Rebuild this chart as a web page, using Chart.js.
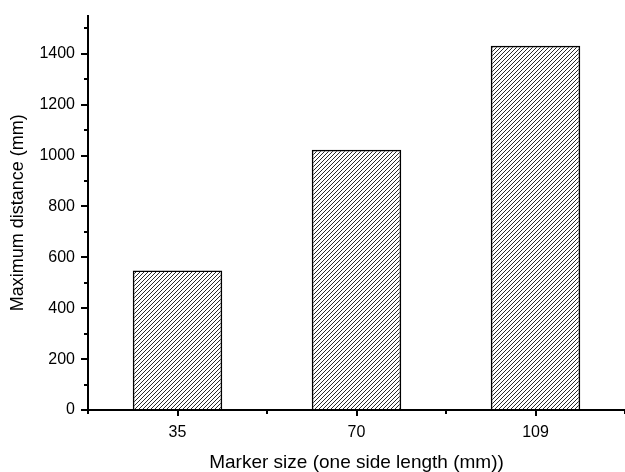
<!DOCTYPE html>
<html>
  <head>
    <meta charset="utf-8">
    <title>Maximum distance by marker size</title>
    <style>
      html, body { margin: 0; padding: 0; background: #fff; }
      .chart-container { width: 625px; height: 472px; }
    </style>
  </head>
  <body>
    <div class="chart-container">
      <canvas id="myChart" width="625" height="472"></canvas>
    </div>
    <script src="https://cdn.jsdelivr.net/npm/chart.js"></script>
    <script>
      // Data
      const markerSizes = ['35', '70', '109'];
      const maxDistances = [548, 1023, 1432];
      const yMin = 0;
      const yMax = 1550;
      const yMajorStep = 200;
      const yMinorStep = 100;

      const FONT = 'Arial, "Liberation Sans", sans-serif';

      // Diagonal hatch fill for the bars
      function makeHatch() {
        const tile = document.createElement('canvas');
        tile.width = 4;
        tile.height = 4;
        const c = tile.getContext('2d');
        c.strokeStyle = '#2a2a2a';
        c.lineWidth = 1;
        c.beginPath();
        c.moveTo(-1, 5); c.lineTo(5, -1);
        c.moveTo(-3, 3); c.lineTo(3, -3);
        c.moveTo(1, 7); c.lineTo(7, 1);
        c.stroke();
        return document.getElementById('myChart').getContext('2d').createPattern(tile, 'repeat');
      }

      // Minor ticks on y, boundary ticks on x
      const extraTicks = {
        id: 'extraTicks',
        afterDraw(chart) {
          const ctx = chart.ctx;
          const y = chart.scales.y;
          const x = chart.scales.x;
          ctx.save();
          ctx.strokeStyle = '#000';
          ctx.lineWidth = 2;
          ctx.beginPath();
          for (let v = yMin + yMinorStep; v <= yMax; v += yMajorStep) {
            const py = Math.round(y.getPixelForValue(v));
            ctx.moveTo(x.left - 4, py);
            ctx.lineTo(x.left, py);
          }
          for (let i = 0; i <= markerSizes.length; i++) {
            const px = Math.round(x.getPixelForValue(i - 0.5));
            ctx.moveTo(px, y.bottom);
            ctx.lineTo(px, y.bottom + 4);
          }
          ctx.stroke();
          ctx.restore();
        }
      };

      const chart = new Chart(document.getElementById('myChart'), {
        type: 'bar',
        data: {
          labels: markerSizes,
          datasets: [{
            label: 'Maximum distance',
            data: maxDistances,
            backgroundColor: makeHatch(),
            borderColor: '#000',
            borderWidth: 1.5,
            barPercentage: 0.5,
            categoryPercentage: 1
          }]
        },
        options: {
          responsive: false,
          animation: false,
          layout: { padding: { top: 12, right: 0, left: 0, bottom: 0 } },
          plugins: {
            legend: { display: false },
            tooltip: { enabled: false }
          },
          scales: {
            x: {
              offset: true,
              grid: {
                offset: false,
                drawOnChartArea: false,
                color: '#000',
                lineWidth: 2,
                tickLength: 6
              },
              border: { color: '#000', width: 2 },
              ticks: {
                color: '#000',
                padding: 7,
                font: { family: FONT, size: 16 }
              },
              title: {
                display: true,
                text: 'Marker size (one side length (mm))',
                color: '#000',
                font: { family: FONT, size: 19 },
                padding: { top: 0, bottom: -2 }
              },
              afterFit(scale) { scale.height = 62; }
            },
            y: {
              min: yMin,
              max: yMax,
              ticks: {
                stepSize: yMajorStep,
                color: '#000',
                padding: 6,
                font: { family: FONT, size: 16 },
                callback: (value) => String(value)
              },
              afterBuildTicks(scale) {
                scale.ticks = scale.ticks.filter(t => t.value % yMajorStep === 0);
              },
              grid: {
                drawOnChartArea: false,
                color: '#000',
                lineWidth: 2,
                tickLength: 7
              },
              border: { color: '#000', width: 2 },
              title: {
                display: true,
                text: 'Maximum distance (mm)',
                color: '#000',
                font: { family: FONT, size: 18 },
                padding: { top: 7, bottom: 0 }
              },
              afterFit(scale) { scale.width = 88; }
            }
          }
        },
        plugins: [extraTicks]
      });
    </script>
  </body>
</html>
